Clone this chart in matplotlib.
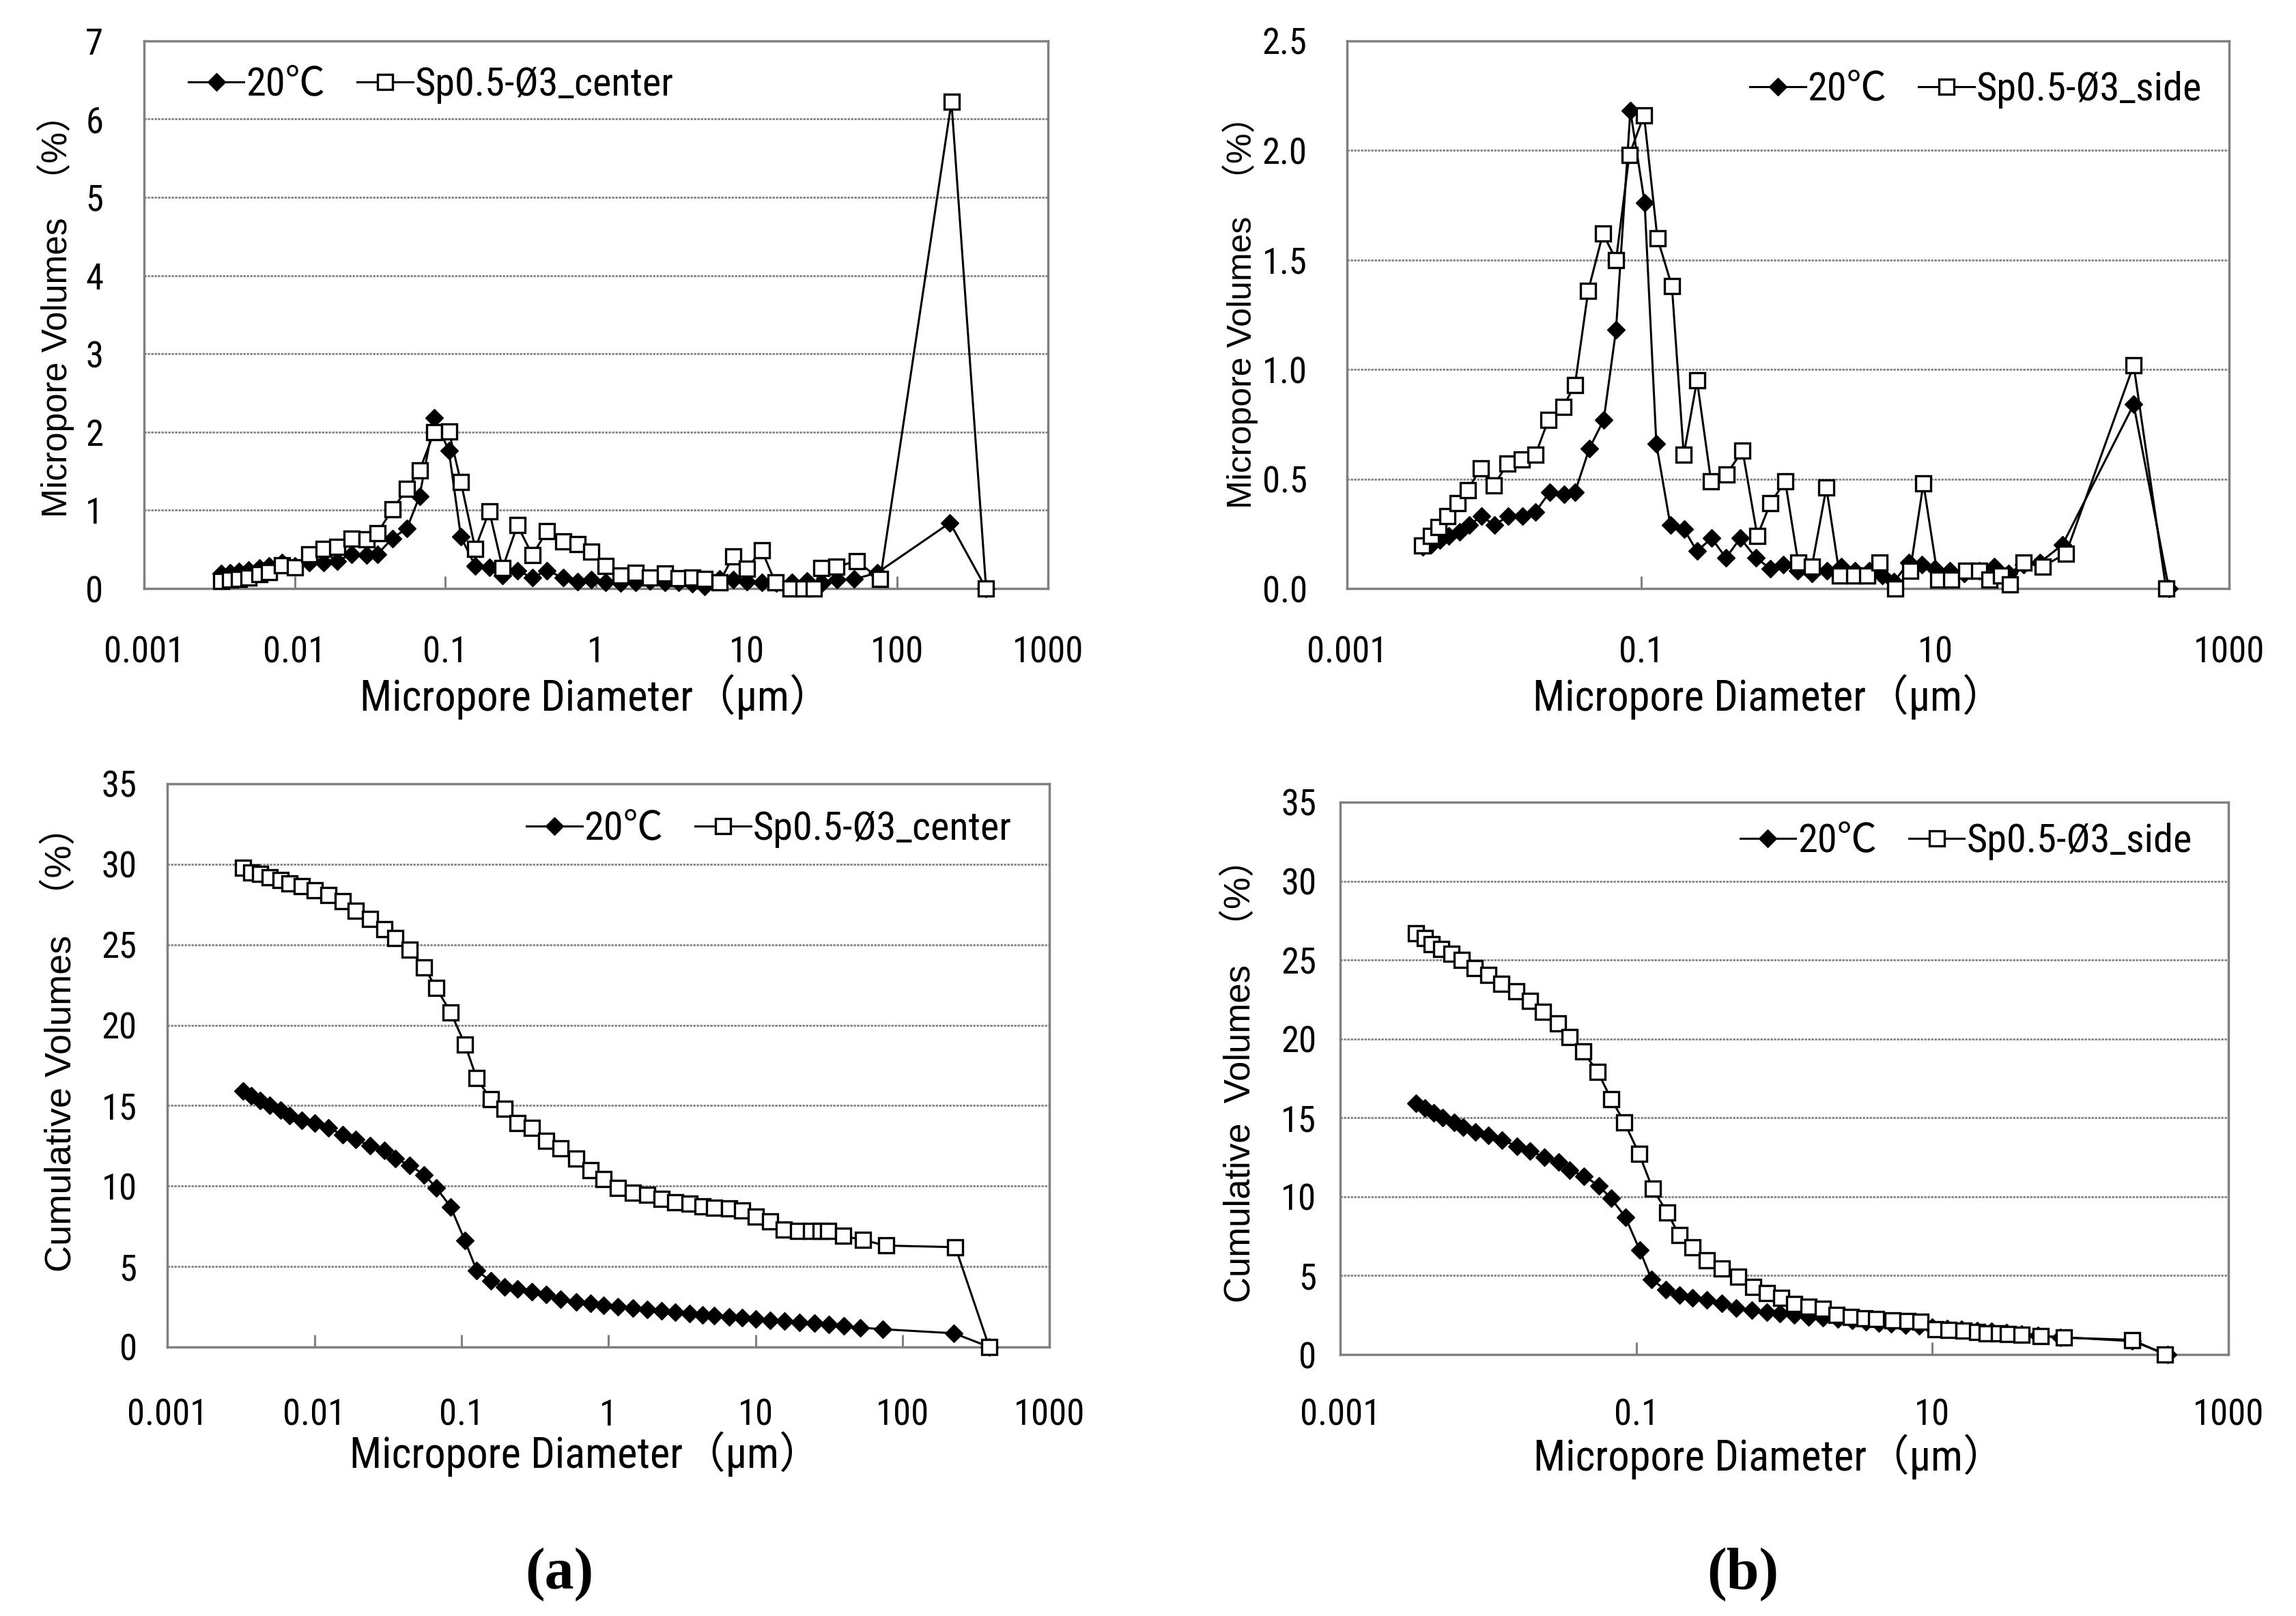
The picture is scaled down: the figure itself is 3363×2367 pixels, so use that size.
import matplotlib
matplotlib.use('Agg')
import matplotlib.pyplot as plt
from matplotlib import font_manager as fm
from matplotlib.font_manager import FontProperties
from matplotlib.ticker import FixedLocator, FixedFormatter, NullLocator

# ---------------- data ----------------
# 20 deg C reference series (shared by (a) and (b)), diameters in micrometres
d_20 = [0.00326, 0.00373, 0.00428, 0.00494, 0.00586, 0.00678, 0.0082, 0.01005, 0.01245, 0.0156,
        0.0191, 0.0239, 0.0300, 0.0355, 0.0445, 0.0557, 0.0675, 0.0845, 0.1057, 0.127,
        0.158, 0.196, 0.240, 0.301, 0.378, 0.473, 0.605, 0.759, 0.929, 1.16,
        1.46, 1.83, 2.29, 2.86, 3.55, 4.37, 5.25, 6.61, 8.13, 10.0,
        12.6, 15.8, 20.0, 25.1, 31.6, 39.8, 51.8, 73.5, 224, 389]
f_20 = [0.19, 0.20, 0.22, 0.24, 0.26, 0.29, 0.33, 0.29, 0.33, 0.33,
        0.35, 0.44, 0.43, 0.44, 0.64, 0.77, 1.18, 2.18, 1.76, 0.66,
        0.29, 0.27, 0.17, 0.23, 0.14, 0.23, 0.14, 0.09, 0.11, 0.08,
        0.07, 0.08, 0.10, 0.08, 0.08, 0.06, 0.03, 0.12, 0.11, 0.09,
        0.08, 0.07, 0.08, 0.10, 0.07, 0.11, 0.12, 0.20, 0.84, 0.0]
c_20 = [15.9, 15.6, 15.3, 15.0, 14.7, 14.4, 14.1, 13.9, 13.6, 13.2,
        12.9, 12.5, 12.2, 11.7, 11.3, 10.7, 9.9, 8.7, 6.6, 4.75,
        4.1, 3.75, 3.6, 3.45, 3.25, 2.95, 2.8, 2.7, 2.6, 2.5,
        2.4, 2.33, 2.25, 2.17, 2.08, 2.0, 1.95, 1.88, 1.8, 1.73,
        1.66, 1.6, 1.53, 1.46, 1.4, 1.31, 1.2, 1.1, 0.85, 0.0]

# Sp0.5-Ø3_center
d_center = [0.00326, 0.00373, 0.00428, 0.00494, 0.00586, 0.00678, 0.0082, 0.01005, 0.01245, 0.0156,
            0.0191, 0.0239, 0.0300, 0.0355, 0.0445, 0.0557, 0.0675, 0.0845, 0.1057, 0.127,
            0.158, 0.196, 0.240, 0.301, 0.378, 0.473, 0.605, 0.759, 0.929, 1.16,
            1.46, 1.83, 2.29, 2.86, 3.55, 4.37, 5.25, 6.61, 8.13, 10.0,
            12.6, 15.5, 19.5, 23.8, 27.9, 31.3, 39.5, 53.7, 77.1, 229, 389]
f_center = [0.10, 0.11, 0.12, 0.14, 0.18, 0.21, 0.30, 0.27, 0.44, 0.51,
            0.53, 0.64, 0.63, 0.71, 1.01, 1.27, 1.51, 2.00, 2.01, 1.36,
            0.51, 0.99, 0.26, 0.81, 0.43, 0.73, 0.60, 0.57, 0.47, 0.29,
            0.17, 0.20, 0.14, 0.19, 0.13, 0.14, 0.12, 0.08, 0.41, 0.25,
            0.49, 0.08, 0.0, 0.0, 0.0, 0.26, 0.28, 0.35, 0.12, 6.22, 0.0]
c_center = [29.8, 29.5, 29.4, 29.2, 29.0, 28.8, 28.65, 28.4, 28.1, 27.7,
            27.1, 26.6, 25.95, 25.4, 24.7, 23.6, 22.3, 20.8, 18.8, 16.7,
            15.4, 14.8, 13.9, 13.6, 12.8, 12.35, 11.7, 11.0, 10.45, 9.9,
            9.6, 9.45, 9.2, 9.0, 8.9, 8.75, 8.65, 8.6, 8.5, 8.1,
            7.8, 7.3, 7.2, 7.2, 7.2, 7.2, 6.9, 6.65, 6.3, 6.2, 0.0]

# Sp0.5-Ø3_side
d_side = [0.00324, 0.00372, 0.00417, 0.00479, 0.00562, 0.00661, 0.00813, 0.0100, 0.0123, 0.0155,
          0.0191, 0.0234, 0.0295, 0.0355, 0.0437, 0.0550, 0.0676, 0.0832, 0.1047, 0.129,
          0.162, 0.195, 0.240, 0.299, 0.380, 0.490, 0.617, 0.759, 0.955, 1.17,
          1.45, 1.82, 2.24, 2.82, 3.47, 4.17, 5.37, 6.76, 8.32, 10.5,
          12.9, 16.2, 20.0, 23.4, 28.2, 32.4, 39.8, 53.7, 77.6, 224, 372]
f_side = [0.195, 0.24, 0.28, 0.33, 0.39, 0.45, 0.55, 0.47, 0.57, 0.59,
          0.61, 0.77, 0.83, 0.93, 1.36, 1.62, 1.50, 1.98, 2.16, 1.60,
          1.38, 0.61, 0.95, 0.49, 0.52, 0.63, 0.24, 0.39, 0.49, 0.12,
          0.10, 0.46, 0.06, 0.06, 0.06, 0.12, 0.0, 0.08, 0.48, 0.04,
          0.04, 0.08, 0.08, 0.04, 0.06, 0.02, 0.12, 0.10, 0.16, 1.02, 0.0]
c_side = [26.7, 26.4, 26.0, 25.7, 25.4, 25.0, 24.5, 24.05, 23.5, 23.0,
          22.4, 21.7, 21.0, 20.1, 19.2, 17.9, 16.2, 14.7, 12.7, 10.5,
          9.0, 7.55, 6.8, 5.95, 5.46, 4.94, 4.3, 3.9, 3.57, 3.2,
          3.05, 2.9, 2.5, 2.4, 2.3, 2.27, 2.18, 2.12, 2.09, 1.6,
          1.54, 1.51, 1.45, 1.36, 1.34, 1.28, 1.25, 1.16, 1.07, 0.93, 0.0]

series_names = ['20℃', 'Sp0.5-Ø3_center', 'Sp0.5-Ø3_side']

xticks_a = [0.001, 0.01, 0.1, 1, 10, 100, 1000]
xticklabels_a = ['0.001', '0.01', '0.1', '1', '10', '100', '1000']
xticks_b = [0.001, 0.1, 10, 1000]
xticklabels_b = ['0.001', '0.1', '10', '1000']
yticks_fa = [0, 1, 2, 3, 4, 5, 6, 7]
yticklabels_fa = ['0', '1', '2', '3', '4', '5', '6', '7']
yticks_fb = [0, 0.5, 1.0, 1.5, 2.0, 2.5]
yticklabels_fb = ['0.0', '0.5', '1.0', '1.5', '2.0', '2.5']
yticks_c = [0, 5, 10, 15, 20, 25, 30, 35]
yticklabels_c = ['0', '5', '10', '15', '20', '25', '30', '35']

xlabel_text = 'Micropore Diameter（μm）'
ylabel_freq = 'Micropore Volumes  （%）'
ylabel_cum_a = 'Cumulative Volumes  （%）'
ylabel_cum_b = 'Cumulative  Volumes  （%）'
panel_tags = ['(a)', '(b)']

# ---------------- fonts ----------------
avail = {f.name for f in fm.fontManager.ttflist}
narrow = None
for cand in ['Liberation Sans Narrow', 'Arial Narrow', 'Roboto Condensed', 'Open Sans Condensed']:
    if cand in avail:
        narrow = cand
        break
if narrow is None:
    narrow = 'Liberation Sans'
cjk = 'Noto Sans CJK JP'
fam_narrow = [narrow, cjk, 'DejaVu Sans']
fam_reg = ['Liberation Sans', cjk, 'DejaVu Sans']
fam_serif = ['Liberation Serif', 'DejaVu Serif']

TICK_FS = 38
XLAB_FS = 45
LEG_FS = 42

GRAY = '#808080'

W, H = 3363, 2367
fig = plt.figure(figsize=(W / 100, H / 100), dpi=100)
fig.patch.set_facecolor('white')


def make_panel(rect, xt, xtl, yt, ytl, ylim, s1x, s1y, s2x, s2y, name2, ylab, ylab_fs,
               xpad, ypad, ylab_xy, xlab_xy, leg_loc, leg_anchor):
    ax = fig.add_axes(rect)
    ax.set_xscale('log')
    ax.set_xlim(0.001, 1000)
    ax.set_ylim(*ylim)
    l1, = ax.plot(s1x, s1y, color='black', lw=2.2, marker='D', ms=13.5,
                  mfc='black', mec='black', mew=1, clip_on=False, zorder=3,
                  label=series_names[0])
    l2, = ax.plot(s2x, s2y, color='black', lw=2.2, marker='s', ms=16,
                  mfc='white', mec='black', mew=2.4, clip_on=False, zorder=4, label=name2)
    ax.xaxis.set_major_locator(FixedLocator(xt))
    ax.xaxis.set_major_formatter(FixedFormatter(xtl))
    ax.xaxis.set_minor_locator(NullLocator())
    ax.yaxis.set_major_locator(FixedLocator(yt))
    ax.yaxis.set_major_formatter(FixedFormatter(ytl))
    ax.yaxis.set_minor_locator(NullLocator())
    ax.tick_params(axis='x', direction='in', length=13, width=2.2, color=GRAY,
                   pad=xpad, labelsize=TICK_FS)
    ax.tick_params(axis='y', length=0, pad=ypad, labelsize=TICK_FS)
    for lab in ax.get_xticklabels() + ax.get_yticklabels():
        lab.set_fontfamily(fam_narrow)
    for sp in ax.spines.values():
        sp.set_color(GRAY)
        sp.set_linewidth(2.5)
    ax.yaxis.grid(True, color=GRAY, lw=2.0, linestyle=(0, (1.2, 0.6)))
    ax.set_axisbelow(True)
    ax.set_xlabel(xlabel_text, fontsize=XLAB_FS, family=fam_narrow)
    ax.xaxis.label.set_va('center')
    ax.xaxis.set_label_coords(*xlab_xy)
    ax.set_ylabel(ylab, fontsize=ylab_fs, family=fam_reg)
    ax.yaxis.label.set_va('center')
    ax.yaxis.set_label_coords(*ylab_xy)
    ax.legend(handles=[l1, l2], loc=leg_loc, bbox_to_anchor=leg_anchor, ncol=2,
              frameon=False, handlelength=1.4, handletextpad=0.05,
              columnspacing=0.8, borderpad=0, borderaxespad=0,
              prop=FontProperties(family=fam_narrow, size=LEG_FS))
    return ax


# (a) top: frequency, center
make_panel([0.0627, 0.6358, 0.3937, 0.339], xticks_a, xticklabels_a, yticks_fa, yticklabels_fa,
           (0, 7), d_20, f_20, d_center, f_center, series_names[1], ylabel_freq, 37,
           49, 43, (-0.098, 0.514), (0.5, -0.198), 'center left', (0.049, 0.919))
# (b) top: frequency, side
make_panel([0.5867, 0.6358, 0.3842, 0.339], xticks_b, xticklabels_b, yticks_fb, yticklabels_fb,
           (0, 2.5), d_20, f_20, d_side, f_side, series_names[2], ylabel_freq, 36,
           49, 42, (-0.121, 0.52), (0.478, -0.198), 'center right', (0.969, 0.91))
# (a) bottom: cumulative, center
make_panel([0.0729, 0.1665, 0.3842, 0.3485], xticks_a, xticklabels_a, yticks_c, yticklabels_c,
           (0, 35), d_20, c_20, d_center, c_center, series_names[1], ylabel_cum_a, 39,
           54, 32, (-0.121, 0.545), (0.474, -0.19), 'center left', (0.407, 0.919))
# (b) bottom: cumulative, side
make_panel([0.5837, 0.1618, 0.3869, 0.3418], xticks_b, xticklabels_b, yticks_c, yticklabels_c,
           (0, 35), d_20, c_20, d_side, c_side, series_names[2], ylabel_cum_b, 38,
           46, 25, (-0.112, 0.512), (0.483, -0.185), 'center right', (0.959, 0.929))

fig.text(382 * 2.145 / W, 1 - 1075 * 2.145 / H, panel_tags[0], fontsize=62, fontweight='bold',
         family=fam_serif, ha='center', va='center')
fig.text(1190 * 2.145 / W, 1 - 1075 * 2.145 / H, panel_tags[1], fontsize=62, fontweight='bold',
         family=fam_serif, ha='center', va='center')

fig.savefig('out.png', dpi=100, facecolor='white')
